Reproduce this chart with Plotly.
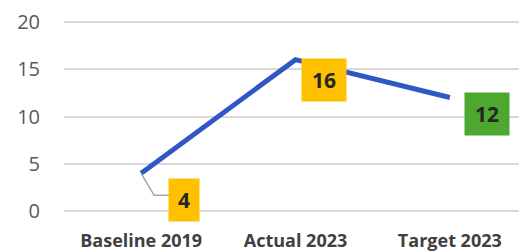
import plotly.graph_objects as go

categories = ["Baseline 2019", "Actual 2023", "Target 2023"]
values = [4, 16, 12]
label_colors = ["#FFC000", "#FFC000", "#4EA72E"]
label_offsets = [(43, 27), (28, 20), (37, 16)]
label_widths = [28, 42, 42]

fig = go.Figure()
fig.add_trace(go.Scatter(
    x=categories, y=values, mode="lines",
    line=dict(color="#2F58C4", width=5),
    hoverinfo="skip", showlegend=False,
))

for i, (c, v) in enumerate(zip(categories, values)):
    ax, ay = label_offsets[i]
    fig.add_annotation(
        x=c, y=v, xref="x", yref="y",
        text=f"<b>{v}</b>", showarrow=True, arrowcolor="rgba(0,0,0,0)",
        ax=ax, ay=ay, axref="pixel", ayref="pixel",
        bgcolor=label_colors[i], width=label_widths[i], height=40, borderpad=1,
        font=dict(family="Open Sans", size=21, color="#262626"),
    )

# elbow leader line for the first label
fig.add_shape(
    type="path", xref="x", yref="y",
    xsizemode="pixel", ysizemode="pixel",
    xanchor=categories[0], yanchor=values[0],
    path="M0,0 L13,-22 L29,-22",
    line=dict(color="#A6A6A6", width=1.5),
)

# the page body has an 8px margin, so the figure is sized to fill the rest
fig.update_layout(
    width=519, height=244,
    margin=dict(l=56, r=0, t=9, b=36),
    paper_bgcolor="white", plot_bgcolor="white",
    font=dict(family="Open Sans"),
    xaxis=dict(
        type="category", range=[-0.5, 2.5], showgrid=False, showline=False,
        ticks="", automargin=False, ticklabelstandoff=12, ticklabeloverflow="allow",
        tickfont=dict(family="Open Sans", size=18, color="#404040", weight="bold"),
    ),
    yaxis=dict(
        range=[-0.5, 20.5], dtick=5, showgrid=True, gridcolor="#D9D9D9", gridwidth=1.5,
        zeroline=False, showline=False, ticks="", ticklabelstandoff=23, automargin=False,
        ticklabeloverflow="allow",
        tickfont=dict(family="Open Sans", size=20, color="#595959"),
    ),
)

fig.write_html("out.html")
